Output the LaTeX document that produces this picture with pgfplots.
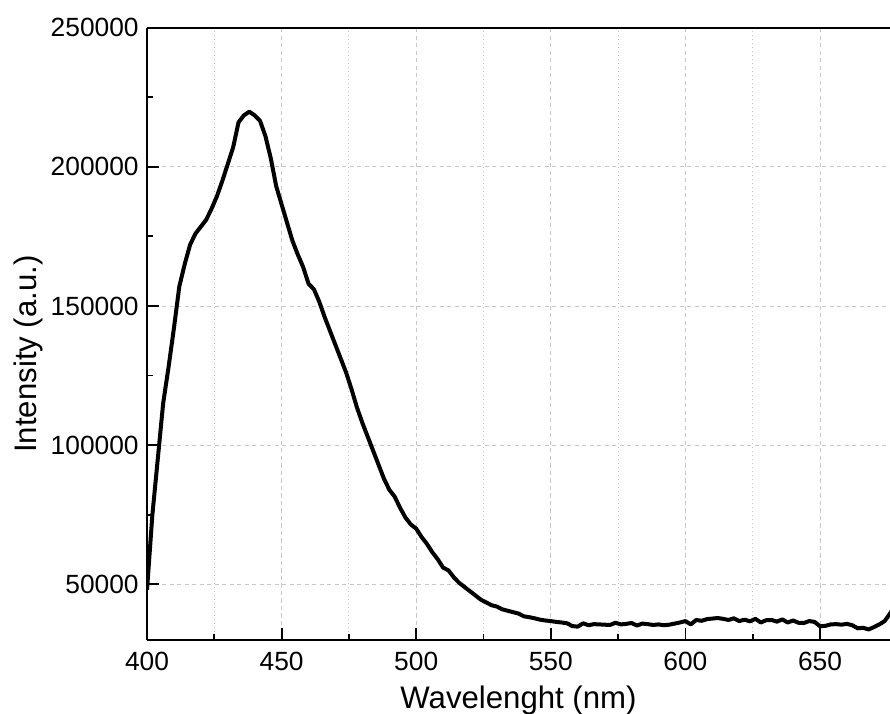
\documentclass[border=0pt]{standalone}
\usepackage{fontspec}
\setmainfont{Liberation Sans}
\usepackage{pgfplots}
\pgfplotsset{compat=1.18}
\definecolor{gridgray}{RGB}{200,200,200}

\pgfplotstableread{
wl   inten
400  48000
402  75000
404  95000
406  115000
408  128000
410  142000
412  157000
414  165000
416  172000
418  176000
420  178500
422  181000
424  185000
426  189500
428  195000
430  201000
432  207000
434  216000
436  218500
438  219800
440  218500
442  216500
444  211000
446  203000
448  193000
450  186500
452  180000
454  173500
456  168500
458  164000
460  158000
462  156000
464  151500
466  146000
468  141000
470  136000
472  131000
474  126000
476  120000
478  113500
480  108000
482  103000
484  98000
486  93000
488  88000
490  84000
492  81500
494  77500
496  74000
498  71500
500  70000
502  67000
504  64500
506  61500
508  59000
510  56000
512  55000
514  52500
516  50500
518  49000
520  47500
522  46000
524  44500
526  43500
528  42500
530  42000
532  41000
534  40500
536  40000
538  39500
540  38500
542  38200
544  37800
546  37300
548  37000
550  36800
552  36500
554  36300
556  36000
558  35000
560  34800
562  36000
564  35300
566  35700
568  35600
570  35500
572  35400
574  36200
576  35600
578  35800
580  36100
582  35200
584  35900
586  35700
588  35400
590  35600
592  35300
594  35500
596  35900
598  36300
600  36800
602  35600
604  37200
606  36900
608  37500
610  37700
612  37900
614  37600
616  37200
618  37800
620  36800
622  37300
624  36700
626  37600
628  36300
630  37100
632  37200
634  36600
636  37400
638  36300
640  37000
642  36200
644  36100
646  36800
648  36500
650  34900
652  35100
654  35600
656  35700
658  35500
660  35800
662  35300
664  34200
666  34400
668  33800
670  34600
672  35600
674  36800
676  39500
677  41000
}\spectrum

\begin{document}
\begin{tikzpicture}
\begin{axis}[
    scale only axis,
    width=445.8pt,
    height=367.4pt,
    xmin=400, xmax=676,
    ymin=30000, ymax=250000,
    axis x line*=box,
    axis y line*=left,
    xtick pos=left,
    ytick pos=left,
    tick align=inside,
    xtick={400,450,500,550,600,650},
    xticklabels={400,450,500,550,600,650},
    ytick={50000,100000,150000,200000,250000},
    yticklabels={50000,100000,150000,200000,250000},
    minor x tick num=1,
    minor y tick num=1,
    major tick length=7pt,
    minor tick length=3.6pt,
    every tick/.style={black, line width=1.1pt},
    axis line style={line width=1.2pt},
    scaled y ticks=false,
    ticklabel style={font=\fontsize{15.8}{18}\selectfont},
    xticklabel style={yshift=-3.5pt},
    yticklabel style={xshift=-1.5pt},
    xmajorgrids, xminorgrids, ymajorgrids,
    major grid style={gridgray, dash pattern=on 2.5pt off 2pt, line width=0.5pt},
    minor grid style={gridgray, dotted, line width=0.5pt},
    xlabel={Wavelenght (nm)},
    ylabel={Intensity (a.u.)},
    label style={font=\fontsize{18.7}{21}\selectfont},
    xlabel style={yshift=-2.5pt},
    ylabel style={at={(ticklabel cs:0.467)}, yshift=-2pt},
]
\addplot[black, line width=2.4pt, line join=round] table[x=wl, y=inten] {\spectrum};
\end{axis}
\pgfresetboundingbox
\path[use as bounding box] (-88.2pt,-43.8pt) rectangle (445.8pt,384pt);
\end{tikzpicture}
\end{document}
